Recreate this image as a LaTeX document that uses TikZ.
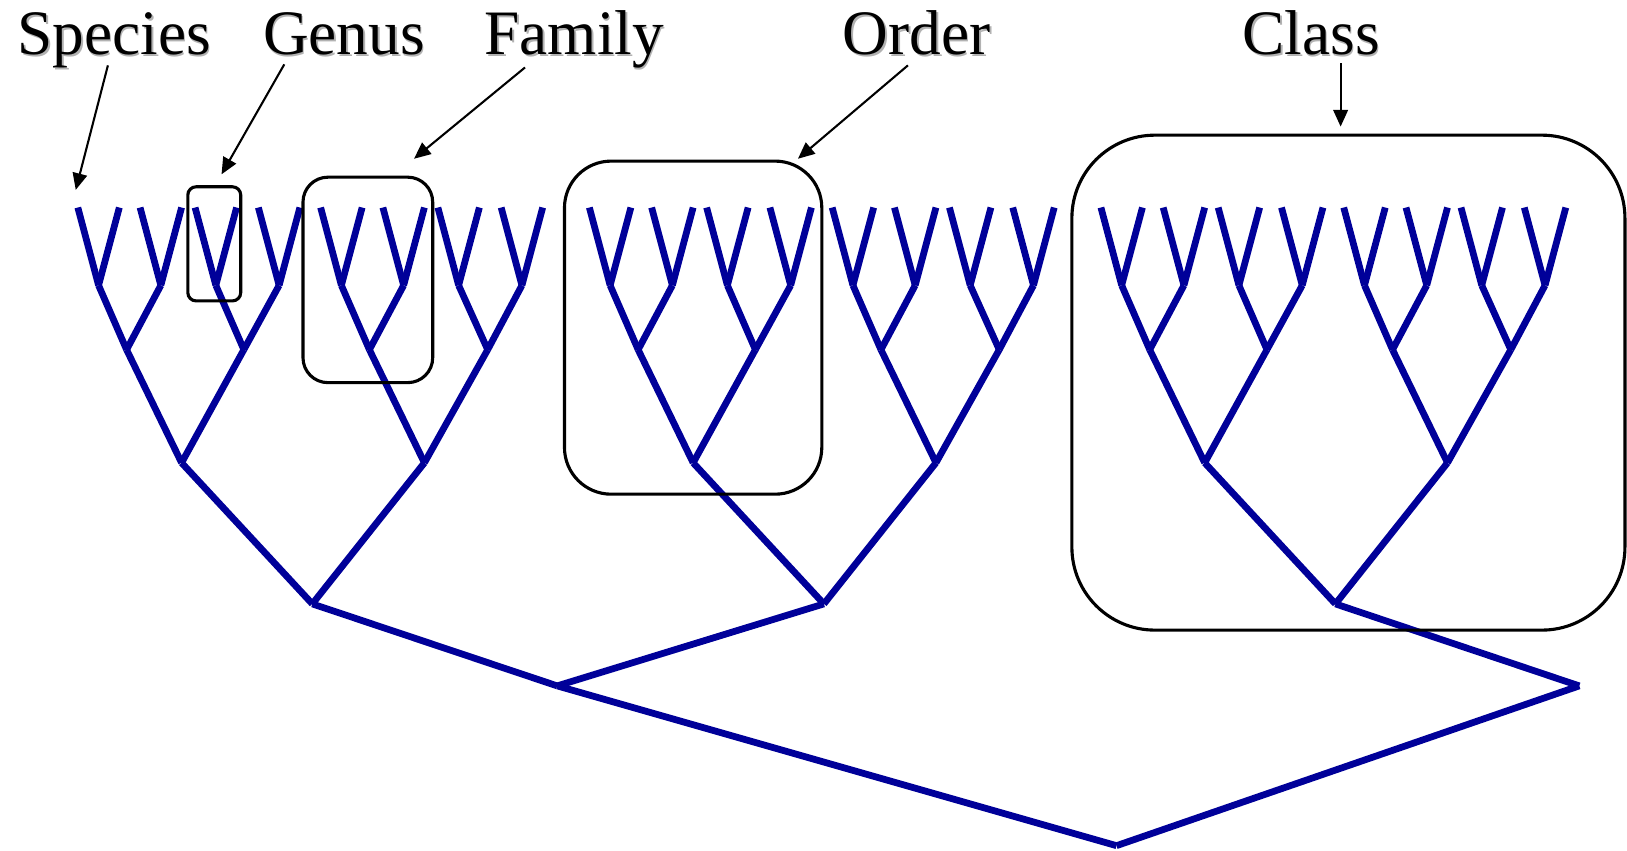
\documentclass[tikz,border=0pt]{standalone}
\usepackage{fontspec}
\setmainfont{Liberation Serif}
\usetikzlibrary{arrows.meta}
\definecolor{treeblue}{RGB}{0,0,153}
\begin{document}
\begin{tikzpicture}[x=1pt,y=-1pt,
  branch/.style={draw=treeblue,line width=6.5pt},
  lab/.style={anchor=base,inner sep=0pt,font=\fontsize{61}{72}\selectfont,text=black},
  labshadow/.style={lab,text=black!30},
  grp/.style={draw=black,line width=3pt,inner sep=0pt,fill=none},
  pointer/.style={draw=black,line width=2pt,-{Triangle[length=16pt,width=14pt]}}]
\useasboundingbox (0,0) rectangle (1568,820);

% ---------- tree: three identical groups ----------
\foreach \g/\dx in {1/0,2/493,3/986} {
  \foreach \i/\x in {1/75,2/135,3/188,4/249,5/309,6/369,7/422,8/483} {
    \coordinate (g\g-l\i-a) at (\x+\dx,200);
    \coordinate (g\g-l\i-b) at (\x+\dx+40,200);
    \coordinate (g\g-v\i) at (\x+\dx+20,275);
    \draw[branch] (g\g-l\i-a) -- (g\g-v\i);
    \draw[branch] (g\g-l\i-b) -- (g\g-v\i);
  }
  \foreach \j/\x/\c/\d in {1/122/1/2,2/235/3/4,3/356/5/6,4/470/7/8} {
    \coordinate (g\g-m\j) at (\x+\dx,337);
    \draw[branch] (g\g-v\c) -- (g\g-m\j);
    \draw[branch] (g\g-v\d) -- (g\g-m\j);
  }
  \foreach \k/\x/\c/\d in {1/175/1/2,2/409/3/4} {
    \coordinate (g\g-n\k) at (\x+\dx,446);
    \draw[branch] (g\g-m\c) -- (g\g-n\k);
    \draw[branch] (g\g-m\d) -- (g\g-n\k);
  }
  \coordinate (g\g-r) at (301+\dx,582);
  \draw[branch] (g\g-n1) -- (g\g-r);
  \draw[branch] (g\g-n2) -- (g\g-r);
}
\coordinate (j1) at (537,661);
\coordinate (j2) at (1522,661);
\coordinate (root) at (1076,815);
\draw[branch] (g1-r) -- (j1);
\draw[branch] (g2-r) -- (j1);
\draw[branch] (g3-r) -- (j2);
\draw[branch] (j1) -- (root);
\draw[branch] (j2) -- (root);

% ---------- group boxes ----------
\node[grp,rounded corners=8pt,minimum width=51pt,minimum height=110pt] (genusbox) at (206.5,235) {};
\node[grp,rounded corners=24pt,minimum width=125pt,minimum height=198pt] (familybox) at (354.5,269.75) {};
\node[grp,rounded corners=45pt,minimum width=248pt,minimum height=321pt] (orderbox) at (668,315.75) {};
\node[grp,rounded corners=80pt,minimum width=533pt,minimum height=477pt] (classbox) at (1299.5,368.75) {};

% ---------- labels ----------
\node[labshadow] (speciesS) at (111.5,54.5) {Species};
\node[lab] (species) at (110,53) {Species};
\node[labshadow] (genusS) at (333,54.5) {Genus};
\node[lab] (genus) at (331.5,53) {Genus};
\node[labshadow] (familyS) at (555,54.5) {Family};
\node[lab] (family) at (553.5,53) {Family};
\node[labshadow] (orderS) at (885,54.5) {Order};
\node[lab] (order) at (883.5,53) {Order};
\node[labshadow] (classS) at (1265,54.5) {Class};
\node[lab] (class) at (1263.5,53) {Class};

% ---------- pointers ----------
\coordinate (speciesFrom) at (104,63);
\coordinate (speciesTo) at (73,183);
\coordinate (genusFrom) at (274,62);
\coordinate (genusTo) at (213.5,168);
\coordinate (familyFrom) at (506,65);
\coordinate (familyTo) at (399,153);
\coordinate (orderFrom) at (875,63);
\coordinate (orderTo) at (769,153);
\coordinate (classFrom) at (1292,61);
\coordinate (classTo) at (1292,122);
\draw[pointer] (speciesFrom) -- (speciesTo);
\draw[pointer] (genusFrom) -- (genusTo);
\draw[pointer] (familyFrom) -- (familyTo);
\draw[pointer] (orderFrom) -- (orderTo);
\draw[pointer] (classFrom) -- (classTo);
\end{tikzpicture}
\end{document}
